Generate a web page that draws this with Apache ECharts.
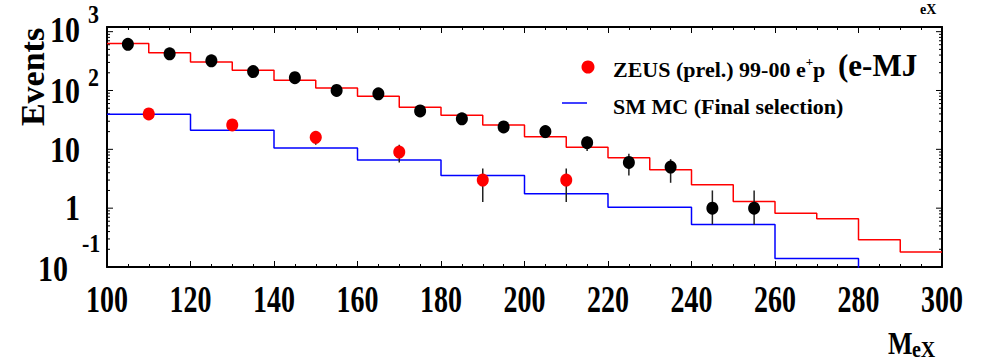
<!DOCTYPE html>
<html>
<head>
<meta charset="utf-8">
<script src="https://cdn.jsdelivr.net/npm/echarts@6/dist/echarts.min.js"></script>
<style>
  html, body { margin: 0; padding: 0; background: #fff; }
  #chart { width: 988px; height: 364px; }
</style>
</head>
<body>
<div id="chart"></div>
<script>
// ---- x range and tick labels (M_eX, GeV) ----
const xMin = 100;
const xMax = 300;
const xTickLabels = [100, 120, 140, 160, 180, 200, 220, 240, 260, 280, 300];

// ---- log y range and decade labels ----
const yMin = 0.1;
const yMax = 1200;
const yDecades = [1000, 100, 10, 1, 0.1];
const yDecadeBase = ['10', '10', '10', '1', '10'];
const yDecadeExp = ['3', '2', '', '', '-1'];

// ---- 10 GeV bins: e-p data points and their MC histogram ----
const binEdges10 = [100, 110, 120, 130, 140, 150, 160, 170, 180, 190, 200,
                    210, 220, 230, 240, 250, 260, 270, 280, 290, 300];
const mcEminus = [630, 440, 305, 220, 150, 110, 80, 52, 38, 26,
                  16.3, 10.9, 7.2, 4.5, 2.5, 1.3, 0.82, 0.66, 0.29, 0.18];
const dataEminusX = [105, 115, 125, 135, 145, 155, 165, 175, 185, 195,
                     205, 215, 225, 235, 245, 255];
const dataEminus = [610, 420, 320, 210, 165, 100, 88, 45, 33, 24,
                    20, 13, 6, 5, 1, 1];
const dataEminusLow = [585, 400, 302, 195, 152, 90, 79, 38, 27, 19,
                       15.5, 9.4, 3.6, 2.7, 0.53, 0.53];
const dataEminusHigh = [635, 440, 338, 225, 178, 110, 97, 52, 39, 29,
                        24.5, 16.6, 8.4, 6.8, 2, 2];

// ---- 20 GeV bins: ZEUS 99-00 e+p points and SM MC ----
const binEdges20 = [100, 120, 140, 160, 180, 200, 220, 240, 260, 280, 300];
// last bin lies below the axis range
const mcEplus = [39.4, 21.2, 10.5, 6.6, 3.6, 1.76, 1.04, 0.53, 0.139, 0.01];
const dataEplusX = [110, 130, 150, 170, 190, 210];
const dataEplus = [40, 26, 16, 9, 3, 3];
const dataEplusLow = [33.7, 21, 12, 6, 1.27, 1.27];
const dataEplusHigh = [46.3, 31, 20, 12, 4.7, 4.7];

const FONT = '"Liberation Serif", "Times New Roman", serif';

function histPoints(edges, vals) {
  return edges.map((x, i) => [x, vals[Math.min(i, vals.length - 1)]]);
}
function zipXY(xs, ys) { return xs.map((x, i) => [x, ys[i]]); }
function zipErr(xs, lo, hi) { return xs.map((x, i) => [x, lo[i], hi[i]]); }

// minor/major tick values on the log axis
const yTickMarks = [];
for (let e = -1; e <= 3; e++) {
  for (let m = 1; m <= 9; m++) {
    const v = m * Math.pow(10, e);
    if (v >= yMin && v <= yMax) yTickMarks.push([xMin, v, m === 1 ? 6 : 3]);
  }
}

const chart = echarts.init(document.getElementById('chart'), null, { renderer: 'svg' });

const xAxisBase = {
  type: 'value', min: xMin, max: xMax, interval: 20,
  axisLine: { show: true, onZero: false, lineStyle: { color: '#000', width: 2 } },
  axisTick: { show: true, inside: true, length: 6, lineStyle: { color: '#000', width: 1 } },
  minorTick: { show: true, splitNumber: 4, length: 3, lineStyle: { color: '#000', width: 1 } },
  axisLabel: { show: false },
  splitLine: { show: false }
};
const yAxisBase = {
  type: 'log', min: yMin, max: yMax, logBase: 10,
  axisLine: { show: true, onZero: false, lineStyle: { color: '#000', width: 2 } },
  axisTick: { show: false },
  axisLabel: { show: false },
  splitLine: { show: false }
};

function errorItem(params, api) {
  const x = api.value(0);
  const p1 = api.coord([x, api.value(1)]);
  const p2 = api.coord([x, api.value(2)]);
  return {
    type: 'line',
    shape: { x1: p1[0], y1: p1[1], x2: p2[0], y2: p2[1] },
    style: { stroke: '#222', lineWidth: 1.5 }
  };
}

chart.setOption({
  animation: false,
  backgroundColor: '#fff',
  grid: { left: 107, top: 27, right: 46, bottom: 97 },
  xAxis: [
    Object.assign({}, xAxisBase, { position: 'bottom' }),
    Object.assign({}, xAxisBase, { position: 'top' })
  ],
  yAxis: [
    Object.assign({}, yAxisBase, { position: 'left' }),
    Object.assign({}, yAxisBase, { position: 'right' })
  ],
  series: [
    {
      name: 'y ticks', type: 'custom', silent: true, z: 1,
      data: yTickMarks,
      encode: { x: 0, y: 1 },
      renderItem: function (params, api) {
        const v = api.value(1);
        const len = api.value(2);
        const l = api.coord([xMin, v]);
        const r = api.coord([xMax, v]);
        return {
          type: 'group',
          children: [
            { type: 'line', shape: { x1: l[0], y1: l[1], x2: l[0] + len, y2: l[1] },
              style: { stroke: '#000', lineWidth: 1 } },
            { type: 'line', shape: { x1: r[0], y1: r[1], x2: r[0] - len, y2: r[1] },
              style: { stroke: '#000', lineWidth: 1 } }
          ]
        };
      }
    },
    {
      name: 'MC e-p', type: 'line', step: 'end', symbol: 'none', z: 2,
      data: histPoints(binEdges10, mcEminus),
      lineStyle: { color: '#ff0000', width: 1.5 }
    },
    {
      name: 'SM MC (Final selection)', type: 'line', step: 'end', symbol: 'none', z: 2,
      data: histPoints(binEdges20, mcEplus),
      lineStyle: { color: '#0000ff', width: 1.5 }
    },
    {
      name: 'e-p errors', type: 'custom', z: 3,
      data: zipErr(dataEminusX, dataEminusLow, dataEminusHigh),
      encode: { x: 0, y: [1, 2] },
      renderItem: errorItem
    },
    {
      name: 'e+p errors', type: 'custom', z: 3,
      data: zipErr(dataEplusX, dataEplusLow, dataEplusHigh),
      encode: { x: 0, y: [1, 2] },
      renderItem: errorItem
    },
    {
      name: 'e-p data', type: 'scatter', z: 4,
      symbol: 'circle', symbolSize: [12, 13],
      itemStyle: { color: '#000', opacity: 1 },
      data: zipXY(dataEminusX, dataEminus)
    },
    {
      name: 'ZEUS (prel.) 99-00 e+p', type: 'scatter', z: 4,
      symbol: 'circle', symbolSize: [12, 13],
      itemStyle: { color: '#ff0000', opacity: 1 },
      data: zipXY(dataEplusX, dataEplus)
    }
  ]
});

// ---- text: tick labels, axis titles and legend ----
function txt(x, y, text, size, opts) {
  opts = opts || {};
  return {
    type: 'text', x: x, y: y,
    scaleX: opts.sx || 1, scaleY: opts.sy || 1,
    rotation: opts.rot || 0,
    silent: true, z: 100,
    style: {
      text: text, fill: '#000',
      font: 'bold ' + size + 'px ' + FONT,
      align: opts.align || 'center',
      verticalAlign: opts.va || 'middle'
    }
  };
}

const gLeft = chart.convertToPixel({ xAxisIndex: 0 }, xMin);
const gBottom = chart.convertToPixel({ yAxisIndex: 0 }, yMin);
const els = [];

xTickLabels.forEach(function (v) {
  const px = chart.convertToPixel({ xAxisIndex: 0 }, v);
  els.push(txt(px, gBottom + 32.5, String(v), 28, { sy: 1.32 }));
});

const baseDy = [-2, 1, 1, 0, 2];
const expDy = [-17, -13, 0, 0, -24];
yDecades.forEach(function (v, i) {
  const py = chart.convertToPixel({ yAxisIndex: 0 }, v);
  const isLast = i === yDecades.length - 1;
  const right = isLast ? gLeft - 39 : gLeft - 27;
  els.push(txt(right, py + baseDy[i], yDecadeBase[i], 30, { sy: 1.18, align: 'right' }));
  if (yDecadeExp[i]) {
    const ex = isLast ? gLeft - 25 : gLeft - 19;
    els.push(txt(ex, py + expDy[i], yDecadeExp[i], 22, { sy: 1.15, align: 'left' }));
  }
});

// axis titles
els.push(txt(32, 77, 'Events', 34, { rot: Math.PI / 2 }));
els.push(txt(888, 342.5, 'M', 26, { sy: 1.25, align: 'left' }));
els.push(txt(912, 350, 'eX', 20, { sy: 1.15, align: 'left' }));
els.push(txt(920, 9, 'eX', 14, { align: 'left' }));

// legend
els.push({ type: 'circle', x: 588, y: 67, shape: { cx: 0, cy: 0, r: 6.5 },
           style: { fill: '#ff0000' }, silent: true, z: 100 });
els.push({ type: 'line', shape: { x1: 562, y1: 103, x2: 587, y2: 103 },
           style: { stroke: '#0000ff', lineWidth: 1.5 }, silent: true, z: 100 });
els.push({
  type: 'text', x: 613, y: 67.5, silent: true, z: 100,
  style: {
    text: '{a|ZEUS (prel.) 99-00 e}{s|+}{a|p}',
    align: 'left', verticalAlign: 'middle',
    rich: {
      a: { font: 'bold 22px ' + FONT, fill: '#000', lineHeight: 26, verticalAlign: 'bottom' },
      s: { font: 'bold 13px ' + FONT, fill: '#000', lineHeight: 14, verticalAlign: 'top' }
    }
  }
});
els.push(txt(838, 65, '(e-MJ', 31, { align: 'left' }));
els.push(txt(613, 106, 'SM MC (Final selection)', 22, { align: 'left' }));

chart.setOption({ graphic: { elements: els } });
</script>
</body>
</html>
